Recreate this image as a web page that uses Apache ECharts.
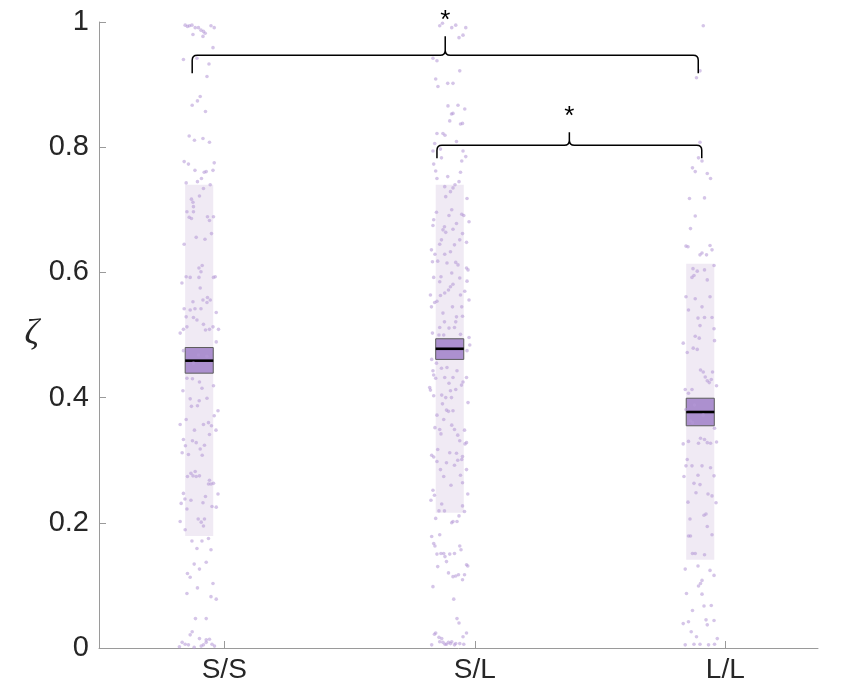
<!DOCTYPE html>
<html>
<head>
<meta charset="utf-8">
<script src="https://cdn.jsdelivr.net/npm/echarts@6/dist/echarts.min.js"></script>
<style>
  html, body { margin: 0; padding: 0; background: #fff; }
  #chart { width: 841px; height: 688px; }
</style>
</head>
<body>
<div id="chart"></div>
<script>
// Conditions and their positions on the x axis
const categories = ['S/S', 'S/L', 'L/L'];
const categoryPos = [1, 2, 3];
const groupCenter = [0.9, 1.9, 2.9];

// Summary statistics per condition
const meanVals = [0.459, 0.478, 0.377];
const semLow = [0.439, 0.461, 0.355];
const semHigh = [0.480, 0.494, 0.399];
const sdLow = [0.179, 0.216, 0.141];
const sdHigh = [0.740, 0.740, 0.614];

// Individual observations [x jitter position, zeta]
const ssPoints = [
[0.844,0.995],[0.853,0.993],[0.861,0.994],[0.871,0.995],[0.884,0.991],[0.897,0.991],[0.907,0.987],[0.917,0.985],[0.924,0.982],[0.875,0.980],[0.915,0.977],[0.947,0.994],[0.960,0.991],[0.955,0.959],[0.837,0.940],[0.891,0.942],[0.939,0.933],[0.931,0.913],[0.904,0.881],[0.893,0.874],[0.872,0.867],[0.925,0.857],[0.860,0.818],[0.881,0.811],[0.915,0.814],[0.941,0.808],[0.840,0.777],[0.857,0.773],[0.960,0.775],[0.883,0.763],[0.928,0.761],[0.920,0.760],[0.955,0.763],[0.909,0.750],[0.893,0.745],[0.848,0.743],[0.944,0.740],[0.917,0.734],[0.901,0.722],[0.869,0.717],[0.875,0.712],[0.877,0.705],[0.851,0.697],[0.877,0.697],[0.860,0.688],[0.869,0.686],[0.933,0.689],[0.957,0.689],[0.941,0.683],[0.949,0.662],[0.888,0.656],[0.923,0.653],[0.840,0.645],[0.912,0.611],[0.899,0.607],[0.907,0.601],[0.848,0.593],[0.864,0.592],[0.899,0.592],[0.957,0.592],[0.964,0.593],[0.831,0.583],[0.904,0.575],[0.933,0.560],[0.915,0.556],[0.944,0.556],[0.931,0.552],[0.875,0.553],[0.968,0.536],[0.840,0.542],[0.864,0.540],[0.883,0.542],[0.907,0.542],[0.848,0.529],[0.877,0.528],[0.891,0.524],[0.917,0.517],[0.955,0.513],[0.941,0.509],[0.925,0.508],[0.977,0.509],[0.837,0.509],[0.824,0.503],[0.851,0.513],
[0.968,0.489],[0.837,0.475],[0.897,0.468],[0.877,0.455],[0.931,0.466],[0.851,0.431],[0.873,0.430],[0.901,0.425],[0.911,0.415],[0.957,0.419],[0.835,0.411],[0.864,0.398],[0.900,0.395],[0.931,0.399],[0.869,0.386],[0.893,0.387],[0.960,0.371],[0.975,0.379],[0.848,0.365],[0.824,0.357],[0.917,0.357],[0.937,0.360],[0.949,0.355],[0.881,0.348],[0.967,0.348],[0.941,0.341],[0.837,0.333],[0.873,0.331],[0.888,0.328],[0.845,0.323],[0.921,0.324],[0.904,0.318],[0.832,0.312],[0.857,0.309],[0.912,0.308],[0.884,0.282],[0.867,0.279],[0.901,0.275],[0.875,0.275],[0.888,0.274],[0.853,0.274],[0.941,0.268],[0.937,0.262],[0.947,0.262],[0.957,0.263],[0.837,0.247],[0.975,0.246],[0.843,0.238],[0.867,0.236],[0.828,0.231],[0.925,0.242],[0.915,0.232],[0.851,0.222],[0.951,0.226],[0.968,0.225],[0.896,0.206],[0.921,0.206],[0.908,0.201],[0.917,0.195],[0.824,0.202],[0.844,0.189],[0.871,0.171],[0.911,0.171],[0.937,0.175],[0.891,0.159],[0.947,0.157],[0.928,0.137],[0.880,0.134],[0.901,0.126],[0.853,0.119],[0.864,0.113],[0.955,0.103],[0.893,0.096],[0.851,0.087],[0.947,0.082],[0.968,0.078],[0.885,0.047],[0.928,0.047],[0.872,0.026],[0.864,0.021],[0.901,0.015],[0.928,0.013],[0.941,0.014],[0.832,0.009],[0.844,0.006],[0.857,0.005],[0.880,0.001],[0.908,0.003],[0.917,0.005],[0.928,0.009],[0.951,0.006],[0.961,0.003],[0.821,0.002]
];
const slPoints = [
[1.871,0.998],[1.860,0.994],[1.908,0.991],[1.924,0.995],[1.964,0.991],[1.953,0.979],[1.937,0.975],[1.833,0.942],[1.849,0.938],[1.940,0.922],[1.844,0.909],[1.853,0.897],[1.892,0.902],[1.913,0.902],[1.893,0.866],[1.933,0.867],[1.960,0.861],[1.913,0.854],[1.907,0.853],[1.900,0.842],[1.943,0.837],[1.951,0.838],[1.849,0.822],[1.873,0.822],[1.881,0.819],[1.927,0.809],[1.840,0.806],[1.833,0.794],[1.863,0.797],[1.953,0.794],[1.964,0.785],[1.867,0.783],[1.948,0.778],[1.836,0.773],[1.844,0.762],[1.943,0.760],[1.849,0.750],[1.892,0.753],[1.937,0.745],[1.921,0.740],[1.913,0.735],[1.880,0.737],[1.903,0.729],[1.884,0.721],[1.969,0.718],[1.847,0.696],[1.908,0.700],[1.948,0.693],[1.956,0.691],[1.897,0.691],[1.836,0.684],[1.833,0.675],[1.927,0.678],[1.977,0.681],[1.879,0.673],[1.873,0.668],[1.884,0.664],[1.913,0.669],[1.951,0.662],[1.867,0.652],[1.940,0.652],[1.860,0.645],[1.919,0.644],[1.827,0.636],[1.903,0.633],[1.967,0.648],[1.841,0.629],[1.880,0.629],[1.852,0.618],[1.831,0.617],[1.924,0.616],[1.889,0.615],[1.933,0.612],[1.967,0.607],[1.973,0.604],[1.836,0.592],[1.865,0.593],[1.908,0.599],[1.860,0.585],[1.940,0.591],[1.969,0.586],[1.913,0.581],[1.903,0.577],[1.895,0.572],[1.880,0.567],[1.863,0.563],[1.849,0.554],[1.840,0.552],[1.827,0.545],[1.823,0.564],[1.943,0.564],[1.960,0.570],[1.977,0.556],[1.948,0.545],[1.911,0.545],[1.873,0.535],[1.927,0.529],[1.951,0.530],[1.924,0.521],[1.879,0.521],[1.860,0.512],[1.897,0.511],[1.919,0.512],[1.831,0.503],
[1.857,0.500],[1.876,0.500],[1.943,0.501],[1.977,0.496],[1.980,0.484],[1.969,0.475],[1.828,0.461],[1.847,0.455],[1.867,0.447],[1.889,0.448],[1.833,0.443],[1.929,0.443],[1.836,0.436],[1.844,0.431],[1.880,0.432],[1.913,0.432],[1.953,0.425],[1.967,0.432],[1.897,0.423],[1.924,0.413],[1.903,0.411],[1.820,0.416],[1.823,0.412],[1.947,0.420],[1.868,0.404],[1.884,0.400],[1.907,0.400],[1.836,0.403],[1.973,0.392],[1.871,0.390],[1.887,0.380],[1.895,0.378],[1.913,0.379],[1.849,0.372],[1.876,0.365],[1.908,0.356],[1.841,0.352],[1.860,0.349],[1.919,0.349],[1.959,0.348],[1.865,0.342],[1.932,0.340],[1.940,0.331],[1.967,0.328],[1.961,0.326],[1.852,0.317],[1.828,0.308],[1.836,0.305],[1.900,0.312],[1.927,0.311],[1.951,0.306],[1.948,0.301],[1.849,0.298],[1.932,0.300],[1.919,0.292],[1.887,0.296],[1.863,0.285],[1.967,0.285],[1.943,0.276],[1.876,0.274],[1.951,0.264],[1.905,0.260],[1.833,0.252],[1.839,0.244],[1.972,0.246],[1.825,0.236],[1.868,0.230],[1.951,0.227],[1.857,0.219],[1.879,0.219],[1.959,0.218],[1.937,0.211],[1.844,0.207],[1.908,0.200],[1.913,0.202],[1.929,0.202],[1.828,0.178],[1.860,0.181],[1.836,0.167],[1.841,0.163],[1.940,0.163],[1.945,0.157],[1.849,0.150],[1.865,0.151],[1.876,0.151],[1.881,0.146],[1.900,0.150],[1.919,0.151],[1.852,0.130],[1.887,0.138],[1.967,0.133],[1.972,0.131],[1.895,0.120],[1.913,0.114],[1.924,0.115],[1.935,0.117],[1.959,0.117],[1.951,0.109],[1.833,0.098],[1.916,0.078],[1.929,0.047],[1.937,0.040],[1.844,0.024],[1.839,0.022],[1.967,0.024],[1.857,0.017],[1.868,0.015],[1.953,0.018],[1.860,0.010],[1.873,0.009],[1.887,0.006],[1.895,0.009],[1.908,0.010],[1.903,0.007],[1.924,0.007],[1.940,0.007],[1.956,0.006],[1.919,0.005],[1.828,0.005],[1.881,0.006]
];
const llPoints = [
[2.912,0.994],[2.899,0.922],[2.885,0.911],[2.899,0.808],[2.893,0.783],[2.907,0.778],[2.869,0.767],[2.880,0.761],[2.928,0.758],[2.941,0.750],[2.857,0.718],[2.917,0.719],[2.880,0.690],[2.861,0.670],[2.939,0.643],[2.947,0.636],[2.843,0.642],[2.851,0.641],[2.899,0.628],[2.907,0.631],[2.925,0.628],[2.955,0.611],[2.871,0.606],[2.888,0.602],[2.917,0.604],[2.867,0.592],[2.875,0.595],[2.928,0.588],[2.843,0.561],[2.880,0.558],[2.939,0.561],[2.907,0.545],[2.853,0.540],[2.891,0.527],[2.917,0.528],[2.947,0.528],[2.899,0.515],[2.955,0.510],
[2.880,0.498],[2.896,0.495],[2.832,0.487],[2.848,0.472],[2.872,0.479],[2.888,0.477],[2.957,0.491],[2.901,0.444],[2.912,0.441],[2.949,0.441],[2.920,0.433],[2.928,0.427],[2.944,0.429],[2.936,0.424],[2.965,0.419],[2.840,0.413],[2.867,0.413],[2.853,0.407],[2.843,0.381],[2.877,0.388],[2.912,0.372],[2.869,0.360],[2.861,0.363],[2.957,0.351],[2.832,0.326],[2.853,0.330],[2.893,0.327],[2.901,0.335],[2.917,0.333],[2.928,0.328],[2.941,0.327],[2.965,0.329],[2.848,0.301],[2.843,0.291],[2.867,0.291],[2.907,0.291],[2.941,0.288],[2.835,0.274],[2.891,0.276],[2.955,0.275],[2.875,0.263],[2.899,0.261],[2.883,0.248],[2.931,0.246],[2.947,0.243],[2.851,0.233],[2.963,0.232],[2.915,0.212],[2.923,0.214],[2.859,0.206],[2.928,0.194],[2.853,0.179],[2.861,0.179],[2.947,0.181],[2.869,0.151],[2.880,0.151],[2.917,0.149],[2.840,0.126],[2.891,0.131],[2.939,0.124],[2.955,0.116],[2.907,0.108],[2.901,0.103],[2.893,0.099],[2.845,0.087],[2.907,0.086],[2.915,0.067],[2.944,0.068],[2.869,0.060],[2.832,0.039],[2.853,0.042],[2.923,0.045],[2.955,0.044],[2.928,0.037],[2.864,0.026],[2.885,0.018],[2.968,0.015],[2.840,0.005],[2.875,0.006],[2.899,0.006],[2.933,0.005],[2.957,0.006]
];

// Significance annotations: [left end, right end, level] and their markers
const sigBraces = [[0.872, 2.892, 0.947], [1.849, 2.906, 0.803]];
const sigLabels = ['*', '*'];

// Drawing constants
const BOX_W = 0.112;
const TEXT = '#262626';
const AXIS = '#9a9a9a';
const FONT = 'Liberation Sans, Arial, Helvetica, sans-serif';
const braceDrop = [18, 13];   // px from the bar down to the ends
const braceRise = [19, 13];   // px from the bar up to the tip

const chart = echarts.init(document.getElementById('chart'), null, { renderer: 'canvas' });

function bandRender(params, api) {
  const x = api.value(0);
  const lo = api.coord([x - BOX_W / 2, api.value(1)]);
  const hi = api.coord([x + BOX_W / 2, api.value(2)]);
  return {
    type: 'rect',
    shape: { x: lo[0], y: hi[1], width: hi[0] - lo[0], height: lo[1] - hi[1] },
    style: { fill: '#f0eaf4' }
  };
}

function semRender(params, api) {
  const x = api.value(0);
  const lo = api.coord([x - BOX_W / 2, api.value(1)]);
  const hi = api.coord([x + BOX_W / 2, api.value(2)]);
  const m = api.coord([x, api.value(3)]);
  return {
    type: 'group',
    children: [
      {
        type: 'rect',
        shape: { x: lo[0], y: hi[1], width: hi[0] - lo[0], height: lo[1] - hi[1] },
        style: { fill: 'rgba(160,128,200,0.85)', stroke: '#5c5c5c', lineWidth: 1 }
      },
      {
        type: 'line',
        shape: { x1: lo[0], y1: m[1], x2: hi[0], y2: m[1] },
        style: { stroke: '#000', lineWidth: 2.6 }
      }
    ]
  };
}

function braceRender(params, api) {
  const i = params.dataIndex;
  const a = api.coord([api.value(0), api.value(2)]);
  const b = api.coord([api.value(1), api.value(2)]);
  const y = a[1];
  const xl = a[0], xr = b[0], xc = (xl + xr) / 2;
  const d = braceDrop[i], h = braceRise[i], r = 5;
  const path =
    'M' + xl + ' ' + (y + d) +
    ' L' + xl + ' ' + (y + r) +
    ' Q' + xl + ' ' + y + ' ' + (xl + r) + ' ' + y +
    ' L' + (xc - r) + ' ' + y +
    ' Q' + xc + ' ' + y + ' ' + xc + ' ' + (y - r) +
    ' L' + xc + ' ' + (y - h) +
    ' M' + xc + ' ' + (y - r) +
    ' Q' + xc + ' ' + y + ' ' + (xc + r) + ' ' + y +
    ' L' + (xr - r) + ' ' + y +
    ' Q' + xr + ' ' + y + ' ' + xr + ' ' + (y + r) +
    ' L' + xr + ' ' + (y + d);
  return {
    type: 'group',
    children: [
      { type: 'path', shape: { pathData: path }, style: { fill: 'none', stroke: '#000', lineWidth: 1.5 } },
      {
        type: 'text',
        style: {
          text: sigLabels[i], x: xc, y: y - h - 15,
          textAlign: 'center', textVerticalAlign: 'middle',
          font: '26px ' + FONT, fill: '#000'
        }
      }
    ]
  };
}

const dotStyle = { color: 'rgba(180,152,214,0.7)' };

const option = {
  animation: false,
  backgroundColor: '#fff',
  grid: { left: 99, right: 23, top: 22, bottom: 40, containLabel: false },
  xAxis: {
    type: 'value', min: 0.5, max: 3.37,
    axisLine: { show: true, lineStyle: { color: AXIS, width: 1 } },
    axisTick: { show: true, inside: true, length: 7, customValues: categoryPos, lineStyle: { color: AXIS } },
    axisLabel: {
      customValues: categoryPos, margin: 8,
      formatter: v => categories[categoryPos.indexOf(v)] || '',
      color: TEXT, fontSize: 28, fontFamily: FONT
    },
    splitLine: { show: false }
  },
  yAxis: {
    type: 'value', min: 0, max: 1, interval: 0.2,
    name: 'ζ', nameLocation: 'middle', nameRotate: 0, nameGap: 60,
    nameTextStyle: { fontSize: 36, fontStyle: 'italic', fontFamily: 'Liberation Serif, serif', color: TEXT },
    axisLine: { show: true, lineStyle: { color: AXIS, width: 1 } },
    axisTick: { show: true, inside: true, length: 7, lineStyle: { color: AXIS } },
    axisLabel: { color: TEXT, fontSize: 29, fontFamily: FONT, margin: 10 },
    splitLine: { show: false }
  },
  series: [
    {
      type: 'custom', name: 'sd', z: 1, renderItem: bandRender,
      encode: { x: 0, y: [1, 2] },
      data: groupCenter.map((x, i) => [x, sdLow[i], sdHigh[i]])
    },
    {
      type: 'custom', name: 'sem', z: 2, renderItem: semRender,
      encode: { x: 0, y: [1, 2, 3] },
      data: groupCenter.map((x, i) => [x, semLow[i], semHigh[i], meanVals[i]])
    },
    { type: 'scatter', name: categories[0], z: 3, symbolSize: 3.6, itemStyle: dotStyle, data: ssPoints },
    { type: 'scatter', name: categories[1], z: 3, symbolSize: 3.6, itemStyle: dotStyle, data: slPoints },
    { type: 'scatter', name: categories[2], z: 3, symbolSize: 3.6, itemStyle: dotStyle, data: llPoints },
    {
      type: 'custom', name: 'sig', z: 5, renderItem: braceRender,
      encode: { x: [0, 1], y: 2 },
      data: sigBraces
    }
  ]
};

chart.setOption(option);
</script>
</body>
</html>
